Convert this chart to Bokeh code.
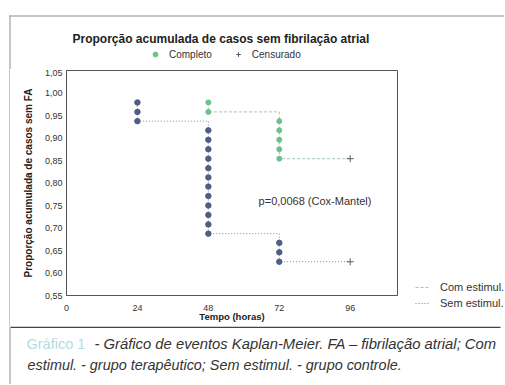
from bokeh.plotting import figure
from bokeh.models import (Range1d, FixedTicker, CustomJSTickFormatter, Label, Legend,
                          LegendItem)
from bokeh.layouts import column, row
from bokeh.embed import file_html
from bokeh.resources import INLINE

# ---- data ----
x_ticks = [0, 24, 48, 72, 96]
y_ticks = [0.55, 0.60, 0.65, 0.70, 0.75, 0.80, 0.85, 0.90, 0.95, 1.00, 1.05]

# Sem estimul. (controle) - completed events
sem_t = [24, 24, 24, 48, 48, 48, 48, 48, 48, 48, 48, 48, 48, 48, 48, 72, 72, 72]
sem_s = [0.979, 0.958, 0.9375, 0.917, 0.896, 0.875, 0.854, 0.833, 0.8125, 0.792,
         0.771, 0.75, 0.729, 0.708, 0.6875, 0.667, 0.646, 0.625]
sem_cens_t = [96]
sem_cens_s = [0.625]

# Com estimul. (terapeutico) - completed events
com_t = [48, 48, 72, 72, 72, 72, 72]
com_s = [0.979, 0.958, 0.9375, 0.917, 0.896, 0.875, 0.854]
com_cens_t = [96]
com_cens_s = [0.854]

title_text = "Proporção acumulada de casos sem fibrilação atrial"
p_text = "p=0,0068 (Cox-Mantel)"
p_pos = (65, 0.759)
caption_label = "Gráfico 1"
caption_line1 = "- Gráfico de eventos Kaplan-Meier. FA – fibrilação atrial; Com"
caption_line2 = "estimul. - grupo terapêutico; Sem estimul. - grupo controle."

FONT = "Liberation Sans"
GREEN = "#6dbf8b"
BLUE = "#4f5d87"
CENS = "#555b70"
BORDER = "#8f8f8f"
NAN = float("nan")


def km_steps(ts, ss, cens_t):
    xs, ys = [], []
    groups = []
    for t, s in zip(ts, ss):
        if groups and groups[-1][0] == t:
            groups[-1][1].append(s)
        else:
            groups.append((t, [s]))
    for t, vals in groups:
        xs.append(t)
        ys.append(ys[-1] if ys else vals[0])
        xs.append(t)
        ys.append(vals[-1])
    xs.append(cens_t[0])
    ys.append(ys[-1])
    return xs, ys


def blank(width, height, x0, x1, y_top, y_bottom):
    """Figure whose frame fills the canvas; data units are page pixels."""
    f = figure(width=width, height=height, output_backend="svg", toolbar_location=None,
               x_range=Range1d(x0, x1), y_range=Range1d(y_bottom, y_top),
               x_axis_type=None, y_axis_type=None, title=None,
               min_border_left=0, min_border_right=0, min_border_top=0,
               min_border_bottom=0)
    f.outline_line_color = None
    f.xgrid.visible = False
    f.ygrid.visible = False
    f.background_fill_color = "white"
    f.border_fill_color = "white"
    return f


def one_legend(label, renderer, loc, font_size, glyph_w, h, standoff, spacing=0,
               extra=None):
    items = [LegendItem(label=label, renderers=[renderer])]
    if extra:
        items += [LegendItem(label=lb, renderers=[r]) for lb, r in extra]
    return Legend(items=items, orientation="horizontal", location=loc,
                  glyph_width=glyph_w, glyph_height=h, label_height=h,
                  label_standoff=standoff, spacing=spacing, padding=0, margin=0,
                  border_line_color=None, background_fill_alpha=0,
                  label_text_font=FONT, label_text_font_size=font_size,
                  label_text_color="#333333")


# ---------- header: title + top legend ----------
H = blank(504, 69, 0, 504, 0, 69)
H.segment(x0=[9], y0=[15.5], x1=[504], y1=[15.5], line_color=BORDER, line_width=1)
H.segment(x0=[9.5], y0=[15], x1=[9.5], y1=[69], line_color=BORDER, line_width=1)
H.add_layout(Label(x=72, y=38, text=title_text, text_font=FONT, text_font_size="12px",
                   text_font_style="bold", text_color="#222222",
                   text_baseline="middle"))
h_com = H.scatter(x=[NAN], y=[NAN], marker="circle", size=5, fill_color=GREEN,
                  line_color=GREEN)
h_cens = H.scatter(x=[NAN], y=[NAN], marker="cross", size=7, line_color=CENS,
                   line_width=1)
H.add_layout(one_legend("Completo", h_com, (149, 9), "10px", 12, 12, 8, spacing=20,
                        extra=[("Censurado", h_cens)]))

# ---------- left strip (page border) ----------
S = blank(10, 257, 0, 10, 69, 326)
S.segment(x0=[9.5], y0=[69], x1=[9.5], y1=[326], line_color=BORDER, line_width=1)

# ---------- main chart ----------
p = figure(width=395, height=257, output_backend="svg", toolbar_location=None,
           x_range=Range1d(0, 112), y_range=Range1d(0.55, 1.05), title=None,
           min_border_left=56, min_border_right=8, min_border_top=1,
           min_border_bottom=31)
p.background_fill_color = "white"
p.border_fill_color = "white"
p.outline_line_color = "#555555"
p.outline_line_width = 1
p.xgrid.visible = False
p.ygrid.visible = False

for ax in (p.xaxis[0], p.yaxis[0]):
    ax.major_tick_in = 0
    ax.major_tick_out = 0
    ax.minor_tick_in = 0
    ax.minor_tick_out = 0
    ax.axis_line_color = "#555555"
    ax.major_label_text_font = FONT
    ax.major_label_text_font_size = "9px"
    ax.major_label_text_color = "#333333"
    ax.axis_label_text_font = FONT
    ax.axis_label_text_font_style = "bold"
    ax.axis_label_text_color = "#222222"

p.xaxis.ticker = FixedTicker(ticks=x_ticks)
p.yaxis.ticker = FixedTicker(ticks=y_ticks)
p.yaxis.formatter = CustomJSTickFormatter(code="return tick.toFixed(2).replace('.', ',')")
p.xaxis.axis_label = "Tempo (horas)"
p.yaxis.axis_label = "Proporção acumulada de casos sem FA"
p.xaxis.axis_label_text_font_size = "9.5px"
p.yaxis.axis_label_text_font_size = "10px"
p.xaxis.major_label_standoff = 9
p.yaxis.major_label_standoff = 4
p.xaxis.axis_label_standoff = -3
p.yaxis.axis_label_standoff = 8

sx, sy = km_steps(sem_t, sem_s, sem_cens_t)
cx, cy = km_steps(com_t, com_s, com_cens_t)
p.line(cx, cy, line_color="#a3c4ae", line_width=1, line_dash="3 2")
p.line(sx, sy, line_color="#7a84a3", line_width=1, line_dash="1 2")
p.scatter(sem_t, sem_s, marker="circle", size=5.5, fill_color=BLUE, line_color=BLUE)
p.scatter(com_t, com_s, marker="circle", size=5, fill_color=GREEN, line_color=GREEN)
p.scatter(sem_cens_t + com_cens_t, sem_cens_s + com_cens_s, marker="cross",
          size=7, line_color=CENS, line_width=1)
p.add_layout(Label(x=p_pos[0], y=p_pos[1], text=p_text, text_font=FONT,
                   text_font_size="11px", text_color="#333333",
                   text_baseline="middle"))

# ---------- right legend panel ----------
L = blank(99, 257, 405, 504, 69, 326)
l_com = L.line(x=[NAN, NAN], y=[NAN, NAN], line_color="#a3c4ae", line_width=1,
               line_dash="3 2")
l_sem = L.line(x=[NAN, NAN], y=[NAN, NAN], line_color="#7a84a3", line_width=1,
               line_dash="1 2")
L.add_layout(one_legend("Com estimul.", l_com, (10, 32), "11px", 15, 14, 10))
L.add_layout(one_legend("Sem estimul.", l_sem, (10, 16), "11px", 15, 14, 10))

# ---------- caption ----------
C = blank(504, 58, 0, 504, 326, 384)
C.segment(x0=[10], y0=[326.75], x1=[500], y1=[326.75], line_color="#444444",
          line_width=1.5)
C.segment(x0=[9.5], y0=[326], x1=[9.5], y1=[384], line_color=BORDER, line_width=1)
C.add_layout(Label(x=26, y=343, text=caption_label, text_font=FONT,
                   text_font_size="14.5px", text_color="#b3dbe2",
                   text_baseline="middle"))
C.add_layout(Label(x=94, y=343, text=caption_line1, text_font=FONT,
                   text_font_size="14.8px", text_font_style="italic",
                   text_color="#333333", text_baseline="middle"))
C.add_layout(Label(x=27, y=364, text=caption_line2, text_font=FONT,
                   text_font_size="14.4px", text_font_style="italic",
                   text_color="#333333", text_baseline="middle"))

# S and L wrapped in their own columns so their frames are not aligned to p's frame
layout = column(H, row(column(S), p, column(L)), C)

open("out.html", "w").write(file_html(layout, INLINE))
